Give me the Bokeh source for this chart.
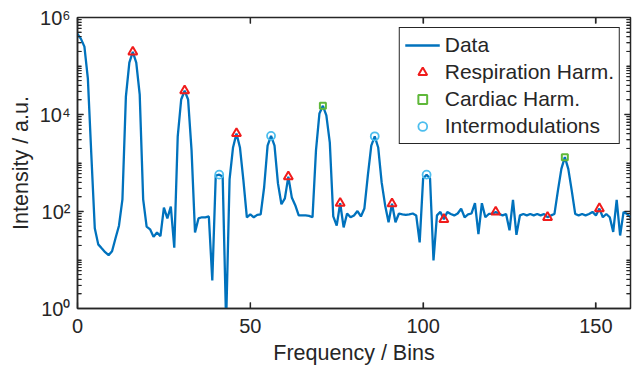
from bokeh.plotting import figure
from bokeh.models import (LogAxis, LinearAxis, FixedTicker, Legend, LegendItem,
                          Range1d, ColumnDataSource)
from bokeh.embed import file_html
from bokeh.resources import INLINE

# ---------------- data ----------------
intensity = [
    457000, 363000, 251000, 55000, 1480, 45, 21, 17.4, 14.5, 12.6,
    15.1, 28, 51, 178, 23400, 117000, 195000, 117000, 25700, 178,
    49, 43, 30, 37, 31, 120, 72, 126, 18, 3550,
    20400, 30900, 20400, 1820, 37, 72, 76, 76, 79, 3.8,
    550, 575, 525, 0.5, 457, 2090, 4070, 2090, 437, 76,
    87, 76, 85, 87, 316, 2290, 3630, 2290, 380, 141,
    186, 525, 195, 135, 83, 83, 83, 81, 76, 1820,
    10500, 15100, 9550, 2630, 79, 51, 148, 47, 91, 76,
    83, 102, 79, 115, 550, 2290, 3550, 2090, 398, 135,
    60, 145, 60, 91, 87, 85, 87, 91, 83, 23,
    479, 575, 479, 9.8, 83, 98, 69, 98, 89, 83,
    91, 115, 76, 87, 91, 148, 34, 148, 76, 89,
    89, 98, 89, 83, 89, 41, 174, 33, 83, 89,
    83, 89, 83, 89, 83, 89, 76, 83, 89, 269,
    759, 1320, 759, 269, 89, 83, 89, 83, 89, 98,
    83, 115, 76, 89, 76, 38, 174, 32, 98, 89,
    76,
]
bins = list(range(len(intensity)))

resp_bins = [16, 31, 46, 61, 76, 91, 106, 121, 136, 151]
cardiac_bins = [71, 141]
intermod_bins = [41, 56, 86, 101]

resp_vals = [intensity[b] for b in resp_bins]
cardiac_vals = [intensity[b] for b in cardiac_bins]
intermod_vals = [intensity[b] for b in intermod_bins]

x_ticks = [0, 50, 100, 150]
y_major = [1, 1e2, 1e4, 1e6]
y_labels = {1: "10\u2070", 100: "10\u00b2", 10000: "10\u2074", 1000000: "10\u2076"}
y_minor = [m * 10 ** k for k in range(6) for m in range(1, 10) if not (m == 1 and k % 2 == 0)]

X0, X1 = 0, 160
Y0, Y1 = 1, 1e6

# ---------------- styling ----------------
FONT = "Liberation Sans"
TXT = "#262626"
AX = "#262626"

W, H = 635, 372
B_LEFT, B_RIGHT, B_TOP, B_BOTTOM = 77, 5, 17, 64

p = figure(width=W, height=H, y_axis_type="log",
           x_range=Range1d(X0, X1), y_range=Range1d(Y0, Y1),
           output_backend="svg", toolbar_location=None,
           min_border_left=B_LEFT, min_border_right=B_RIGHT, min_border_top=B_TOP,
           min_border_bottom=B_BOTTOM)
p.xgrid.visible = False
p.ygrid.visible = False
p.outline_line_color = AX
p.outline_line_width = 1.5
p.outline_line_alpha = 1.0
p.background_fill_color = "white"
p.border_fill_color = "white"

# bottom axis
xa = p.xaxis[0]
xa.ticker = FixedTicker(ticks=x_ticks)
xa.major_tick_in = 6
xa.major_tick_out = 0
xa.minor_tick_line_color = None
xa.axis_line_color = AX
xa.axis_line_width = 1.5
xa.major_tick_line_color = AX
xa.major_tick_line_width = 1.2
xa.major_label_text_font = FONT
xa.major_label_text_font_size = "20px"
xa.major_label_text_color = TXT
xa.major_label_standoff = 10
xa.axis_label = "Frequency / Bins"
xa.axis_label_text_font = FONT
xa.axis_label_text_font_size = "21.5px"
xa.axis_label_text_font_style = "normal"
xa.axis_label_text_color = TXT
xa.axis_label_standoff = 5

# left axis
ya = p.yaxis[0]
ya.ticker = FixedTicker(ticks=y_major, minor_ticks=y_minor)
ya.major_label_overrides = y_labels
ya.major_tick_in = 6
ya.major_tick_out = 0
ya.minor_tick_in = 4
ya.minor_tick_out = 0
ya.axis_line_color = AX
ya.axis_line_width = 1.5
ya.major_tick_line_color = AX
ya.major_tick_line_width = 1.2
ya.minor_tick_line_color = AX
ya.minor_tick_line_width = 1
ya.major_label_text_font = FONT
ya.major_label_text_font_size = "20px"
ya.major_label_text_color = TXT
ya.major_label_standoff = 7
ya.axis_label = "Intensity / a.u."
ya.axis_label_text_font = FONT
ya.axis_label_text_font_size = "21.5px"
ya.axis_label_text_font_style = "normal"
ya.axis_label_text_color = TXT
ya.axis_label_standoff = 4

# right and top axes (MATLAB box), no labels
ra = LogAxis(ticker=FixedTicker(ticks=y_major, minor_ticks=y_minor),
             major_label_overrides={v: "" for v in y_major}, major_label_standoff=0,
             major_tick_in=6, major_tick_out=0, minor_tick_in=4, minor_tick_out=0,
             axis_line_color=None, major_tick_line_color=AX, minor_tick_line_color=AX,
             major_tick_line_width=1.2, minor_tick_line_width=1)
p.add_layout(ra, "right")
ta = LinearAxis(ticker=FixedTicker(ticks=x_ticks),
                major_label_overrides={v: "" for v in x_ticks}, major_label_standoff=0,
                major_tick_in=6, major_tick_out=0, minor_tick_line_color=None,
                axis_line_color=None, major_tick_line_color=AX, major_tick_line_width=1.2)
p.add_layout(ta, "above")

# inward tick marks along all four frame edges, lengths converted from pixels
frame_w = W - B_LEFT - B_RIGHT
frame_h = H - B_TOP - B_BOTTOM
px_x = (X1 - X0) / frame_w                      # data units per pixel (x)
dec_px = 6.0 / frame_h                          # decades per pixel (y)
MAJ, MIN = 6, 4
inner_y_major = [v for v in y_major if Y0 < v < Y1]
inner_x_major = [v for v in x_ticks if X0 < v < X1]
for ys, ln, lw in ((inner_y_major, MAJ, 1.3), (y_minor, MIN, 1.0)):
    n = len(ys)
    p.segment(x0=[X0] * n, y0=ys, x1=[X0 + ln * px_x] * n, y1=ys, line_color=AX, line_width=lw)
    p.segment(x0=[X1] * n, y0=ys, x1=[X1 - ln * px_x] * n, y1=ys, line_color=AX, line_width=lw)
n = len(inner_x_major)
p.segment(x0=inner_x_major, y0=[Y0] * n, x1=inner_x_major, y1=[Y0 * 10 ** (MAJ * dec_px)] * n,
          line_color=AX, line_width=1.3)
p.segment(x0=inner_x_major, y0=[Y1] * n, x1=inner_x_major, y1=[Y1 / 10 ** (MAJ * dec_px)] * n,
          line_color=AX, line_width=1.3)

# ---------------- glyphs ----------------
src = ColumnDataSource(dict(x=bins, y=intensity))
r_line = p.line("x", "y", source=src, line_color="#0072BD", line_width=2.3)
r_resp = p.scatter(resp_bins, resp_vals, marker="triangle", size=9,
                   fill_color=None, line_color="#f01c1c", line_width=2)
r_card = p.scatter(cardiac_bins, cardiac_vals, marker="square", size=6,
                   fill_color=None, line_color="#5fb83a", line_width=2)
r_int = p.scatter(intermod_bins, intermod_vals, marker="circle", size=8,
                  fill_color=None, line_color="#4DBEEE", line_width=1.8)

legend = Legend(items=[
    LegendItem(label="Data", renderers=[r_line]),
    LegendItem(label="Respiration Harm.", renderers=[r_resp]),
    LegendItem(label="Cardiac Harm.", renderers=[r_card]),
    LegendItem(label="Intermodulations", renderers=[r_int]),
], location="top_right")
legend.label_text_font = FONT
legend.label_text_font_size = "21px"
legend.label_text_color = TXT
legend.border_line_color = AX
legend.border_line_width = 1.5
legend.border_line_alpha = 1.0
legend.background_fill_color = "white"
legend.background_fill_alpha = 1.0
legend.glyph_width = 35
legend.glyph_height = 22
legend.label_height = 22
legend.label_standoff = 5
legend.padding = 5
legend.spacing = 3
legend.margin = 10
p.add_layout(legend)

open("out.html", "w").write(file_html(p, INLINE))
